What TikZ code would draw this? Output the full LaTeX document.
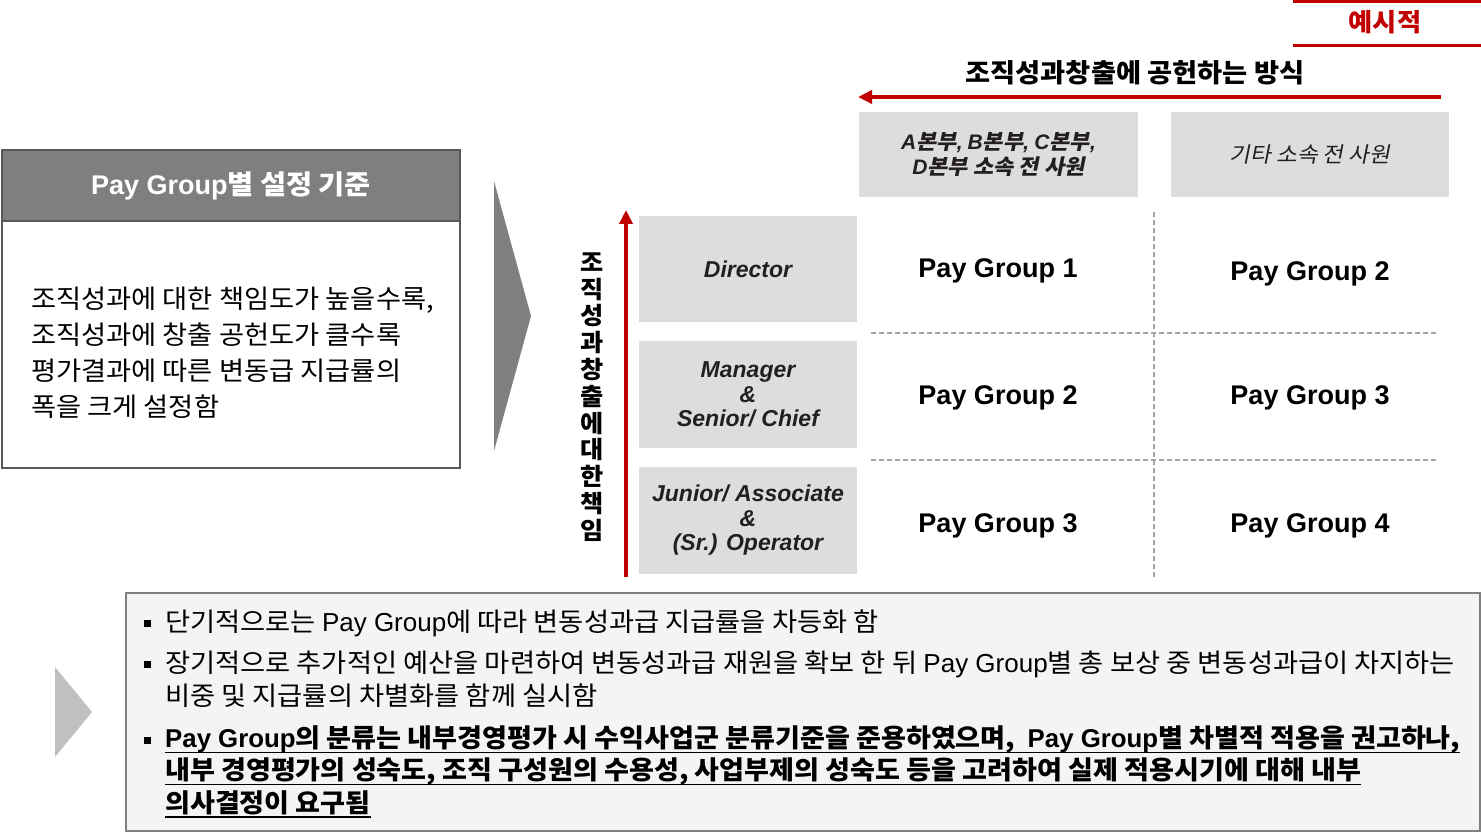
\documentclass[tikz,border=0pt]{standalone}
\usepackage{fontspec}
\usetikzlibrary{arrows.meta}
\setmainfont{Noto Sans CJK KR}[FakeStretch=1.05]
\newfontfamily\ar{Liberation Sans}
\newfontfamily\krsl{Noto Sans CJK KR}[FakeSlant=0.2,FakeStretch=1.05]
\newcommand\fsz[2]{\fontsize{#1}{#2}\selectfont}
\newcommand\myul[1]{\setbox0\hbox{#1}\rlap{\rule[-5.5pt]{\wd0}{1.6pt}}\box0}
\definecolor{myred}{HTML}{C00000}
\definecolor{boxgray}{HTML}{DDDDDD}
\definecolor{hdgray}{HTML}{7F7F7F}
\definecolor{chev}{HTML}{808080}
\definecolor{chevlight}{HTML}{C0C0C0}
\definecolor{panelfill}{HTML}{F4F4F4}
\definecolor{bordc}{HTML}{595959}
\definecolor{txt}{HTML}{231F20}
\definecolor{dashc}{HTML}{A6A6A6}
\tikzset{
  hdrbox/.style={fill=boxgray, minimum width=279, minimum height=85, inner sep=0, align=center, text=txt},
  rolebox/.style={fill=boxgray, minimum width=218, minimum height=106, inner sep=0, align=center, text=txt, font=\ar\bfseries\itshape\fsz{23}{24.5}},
  pgtext/.style={font=\ar\bfseries\fsz{27}{30}, inner sep=0},
  gridline/.style={draw=dashc, line width=1.2, dash pattern=on 5pt off 3pt},
  redline/.style={draw=myred, line width=3},
  redarrow/.style={draw=myred, line width=3.5, -{Triangle[length=14,width=13]}},
  bline/.style={anchor=west, inner sep=0, font=\fsz{26}{30}},
  bbline/.style={anchor=west, inner sep=0, font=\bfseries\fsz{25.8}{30}},
  bul/.style={fill=black}
}
\begin{document}
\begin{tikzpicture}[x=1pt,y=-1pt]
\useasboundingbox (0,0) rectangle (1481,834);

% top-right label
\draw[redline] (1293,2) -- (1481,2);
\node[text=myred, font=\bfseries\fsz{25}{26}, inner sep=0] (ex) at (1385,22) {예시적};
\draw[redline] (1293,46) -- (1481,46);

% contribution title and arrow
\node[font=\bfseries\fsz{26}{28}, inner sep=0] (contrib) at (1135,73) {조직성과창출에 공헌하는 방식};
\coordinate (aR) at (1441,97);
\coordinate (aL) at (858,97);
\draw[redarrow] (aR) -- (aL);

% column headers
\node[hdrbox, font=\krsl\bfseries\fsz{21}{25}] (h1) at (998.5,154.5)
  {{\ar\bfseries\itshape A}본부{\ar\bfseries\itshape ,} {\ar\bfseries\itshape B}본부{\ar\bfseries\itshape ,} {\ar\bfseries\itshape C}본부{\ar\bfseries\itshape ,}\\{\ar\bfseries\itshape D}본부 소속 전 사원};
\node[hdrbox, minimum width=278, font=\krsl\fsz{21.5}{25}] (h2) at (1310,154.5) {기타 소속 전 사원};

% role boxes
\node[rolebox] (r1) at (748,269) {Director};
\node[rolebox, minimum height=107] (r2) at (748,394.5) {Manager\\\&\\Senior/ Chief};
\node[rolebox, minimum height=107] (r3) at (748,520.5) {Junior/ Associate\\\&\\(Sr.) Operator};

% vertical arrow and text
\coordinate (vB) at (626,577);
\coordinate (vT) at (626,210);
\draw[redarrow] (vB) -- (vT);
\node[font=\bfseries\fsz{24}{26.8}, align=center, inner sep=0] (vt) at (592,397)
  {조\\직\\성\\과\\창\\출\\에\\대\\한\\책\\임};

% grid
\coordinate (gT) at (1154,212);
\coordinate (gB) at (1154,580);
\coordinate (g1L) at (871,333);
\coordinate (g1R) at (1437,333);
\coordinate (g2L) at (871,460);
\coordinate (g2R) at (1437,460);
\draw[gridline] (gT) -- (gB);
\draw[gridline] (g1L) -- (g1R);
\draw[gridline] (g2L) -- (g2R);

% pay groups
\node[pgtext] (p11) at (998,271) {Pay Group 1};
\node[pgtext] (p12) at (1310,274) {Pay Group 2};
\node[pgtext] (p21) at (998,398) {Pay Group 2};
\node[pgtext] (p22) at (1310,398) {Pay Group 3};
\node[pgtext] (p31) at (998,526) {Pay Group 3};
\node[pgtext] (p32) at (1310,526) {Pay Group 4};

% left panel
\node[draw=bordc, line width=2, minimum width=458, minimum height=318, anchor=north west, inner sep=0] (panel) at (1,149) {};
\node[draw=bordc, line width=2, fill=hdgray, minimum width=458, minimum height=71, anchor=north west, inner sep=0,
      text=white, font=\bfseries\fsz{27}{30}] (phdr) at (1,149) {{\ar\bfseries Pay Group}별 설정 기준};
\node[anchor=west, align=left, inner sep=0, font=\fsz{26}{36}] (pbody) at (31,353)
  {조직성과에 대한 책임도가 높을수록,\\조직성과에 창출 공헌도가 클수록\\평가결과에 따른 변동급 지급률의\\폭을 크게 설정함};

% big chevron
\fill[chev] (494,181) -- (531,316) -- (494,451) -- cycle;

% bottom panel
\node[draw=chev, line width=2, fill=panelfill, minimum width=1354, minimum height=238, anchor=north west, inner sep=0] (bpanel) at (125,592) {};
\fill[chevlight] (55,667) -- (92,712) -- (55,757) -- cycle;

\fill[bul] (144,620) rectangle (151,627);
\fill[bul] (144,661) rectangle (151,668);
\fill[bul] (144,737) rectangle (151,744);

\node[bline] (b1) at (165,623) {단기적으로는 {\ar Pay Group}에 따라 변동성과급 지급률을 차등화 함};
\node[bline] (b2) at (165,664) {장기적으로 추가적인 예산을 마련하여 변동성과급 재원을 확보 한 뒤 {\ar Pay Group}별 총 보상 중 변동성과급이 차지하는};
\node[bline] (b2b) at (165,696) {비중 및 지급률의 차별화를 함께 실시함};
\node[bbline] (b3) at (165,740) {\myul{{\ar\bfseries Pay Group}의 분류는 내부경영평가 시 수익사업군 분류기준을 준용하였으며,\ \ {\ar\bfseries Pay Group}별 차별적 적용을 권고하나,}};
\node[bbline] (b3b) at (165,772) {\myul{내부 경영평가의 성숙도, 조직 구성원의 수용성, 사업부제의 성숙도 등을 고려하여 실제 적용시기에 대해 내부}};
\node[bbline] (b3c) at (165,804) {\myul{의사결정이 요구됨}};
\end{tikzpicture}
\end{document}
